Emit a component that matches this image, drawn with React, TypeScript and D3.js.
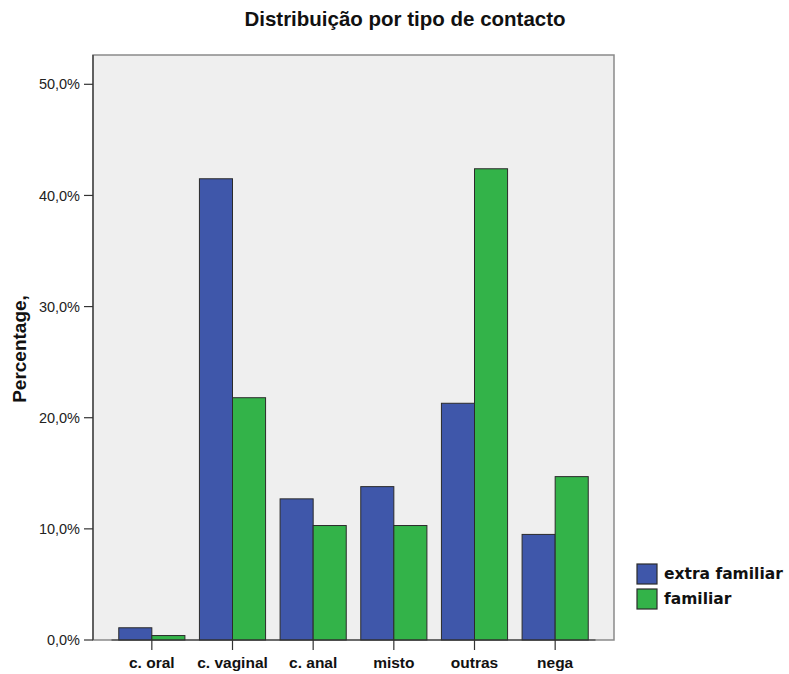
import React, { useEffect, useRef } from "react";
import * as d3 from "d3";

const categories = ["c. oral", "c. vaginal", "c. anal", "misto", "outras", "nega"];
const seriesNames = ["extra familiar", "familiar"];
const extraFamiliar = [1.1, 41.5, 12.7, 13.8, 21.3, 9.5];
const familiar = [0.4, 21.8, 10.3, 10.3, 42.4, 14.7];
const yTicks = [0, 10, 20, 30, 40, 50];
const colors = ["#3f57aa", "#33b349"];

const App: React.FC = () => {
  const svgRef = useRef<SVGSVGElement>(null);

  useEffect(() => {
    const svg = d3.select(svgRef.current);
    svg.selectAll("*").remove();

    const frame = { left: 93, right: 614, top: 55, bottom: 640 };

    const y = d3.scaleLinear().domain([0, 50]).range([640, 84.3]);
    const x0 = d3.scaleBand().domain(categories).range([111.5, 595.5]).paddingInner(0.18).paddingOuter(0.09);
    const x1 = d3.scaleBand().domain(seriesNames).range([0, x0.bandwidth()]);

    // plot background
    svg.append("rect")
      .attr("x", frame.left)
      .attr("y", frame.top)
      .attr("width", frame.right - frame.left)
      .attr("height", frame.bottom - frame.top)
      .attr("fill", "#efefef")
      .attr("stroke", "#8a8a8a")
      .attr("stroke-width", 1.5);

    // bars
    const series = [extraFamiliar, familiar];
    categories.forEach((c, i) => {
      series.forEach((vals, s) => {
        svg.append("rect")
          .attr("x", (x0(c) ?? 0) + (x1(seriesNames[s]) ?? 0))
          .attr("y", y(vals[i]))
          .attr("width", x1.bandwidth())
          .attr("height", y(0) - y(vals[i]))
          .attr("fill", colors[s])
          .attr("stroke", "#2b2b2b")
          .attr("stroke-width", 1);
      });
    });

    // x axis line
    svg.append("line")
      .attr("x1", 111.5).attr("x2", 595.5)
      .attr("y1", y(0)).attr("y2", y(0))
      .attr("stroke", "#333").attr("stroke-width", 1.2);

    // left axis line
    svg.append("line")
      .attr("x1", frame.left).attr("x2", frame.left)
      .attr("y1", frame.top).attr("y2", frame.bottom)
      .attr("stroke", "#333").attr("stroke-width", 1.2);

    // y ticks
    const fmt = (v: number) => v.toFixed(1).replace(".", ",") + "%";
    yTicks.forEach((t) => {
      svg.append("line")
        .attr("x1", frame.left - 9).attr("x2", frame.left)
        .attr("y1", y(t)).attr("y2", y(t))
        .attr("stroke", "#333").attr("stroke-width", 1.2);
      svg.append("text")
        .attr("x", frame.left - 13)
        .attr("y", y(t))
        .attr("dy", "0.35em")
        .attr("text-anchor", "end")
        .attr("font-family", "Liberation Sans, Arial, sans-serif")
        .attr("font-size", 14.5)
        .attr("fill", "#222")
        .text(fmt(t));
    });

    // x ticks + labels
    categories.forEach((c) => {
      const cx = (x0(c) ?? 0) + x0.bandwidth() / 2;
      svg.append("line")
        .attr("x1", cx).attr("x2", cx)
        .attr("y1", y(0)).attr("y2", y(0) + 10)
        .attr("stroke", "#333").attr("stroke-width", 1.2);
      svg.append("text")
        .attr("x", cx)
        .attr("y", 663)
        .attr("dy", "0.35em")
        .attr("text-anchor", "middle")
        .attr("font-family", "Liberation Sans, Arial, sans-serif")
        .attr("font-weight", "bold")
        .attr("font-size", 15.5)
        .attr("fill", "#111")
        .text(c);
    });

    // title
    svg.append("text")
      .attr("x", 405)
      .attr("y", 19)
      .attr("dy", "0.35em")
      .attr("text-anchor", "middle")
      .attr("font-family", "Liberation Sans, Arial, sans-serif")
      .attr("font-weight", "bold")
      .attr("font-size", 20.5)
      .attr("fill", "#111")
      .text("Distribuição por tipo de contacto");

    // y label
    svg.append("text")
      .attr("transform", "translate(19,349) rotate(-90)")
      .attr("dy", "0.35em")
      .attr("text-anchor", "middle")
      .attr("font-family", "Liberation Sans, Arial, sans-serif")
      .attr("font-weight", "bold")
      .attr("font-size", 19)
      .attr("fill", "#111")
      .text("Percentage,");

    // legend
    seriesNames.forEach((name, s) => {
      const ly = 564 + s * 25;
      svg.append("rect")
        .attr("x", 637).attr("y", ly)
        .attr("width", 20).attr("height", 20)
        .attr("fill", colors[s])
        .attr("stroke", "#2b2b2b").attr("stroke-width", 1.2);
      svg.append("text")
        .attr("x", 664).attr("y", ly + 10)
        .attr("dy", "0.35em")
        .attr("font-family", "DejaVu Sans, sans-serif")
        .attr("font-weight", "bold")
        .attr("font-size", 15.5)
        .attr("fill", "#111")
        .text(name);
    });
  }, []);

  return <svg ref={svgRef} width={789} height={674} style={{ position: "absolute", left: 0, top: 0 }} />;
};

export default App;
